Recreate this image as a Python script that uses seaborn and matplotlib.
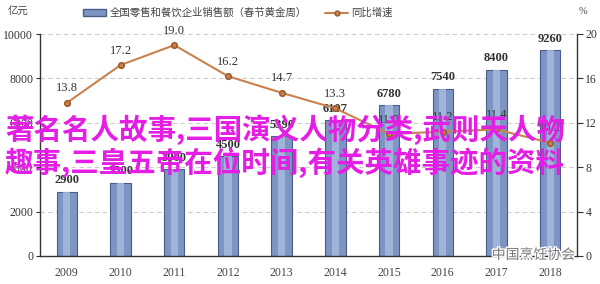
import matplotlib
matplotlib.use("Agg")
import matplotlib.pyplot as plt
import seaborn as sns
import numpy as np
import pandas as pd
from matplotlib.lines import Line2D
from matplotlib.patches import Patch
import matplotlib.patheffects as pe

years = ["2009", "2010", "2011", "2012", "2013", "2014", "2015", "2016", "2017", "2018"]
sales = [2900, 3300, 3900, 4500, 5390, 6107, 6780, 7540, 8400, 9260]
growth = [13.8, 17.2, 19.0, 16.2, 14.7, 13.3, 11.0, 11.2, 11.4, 10.2]
left_ticks = [0, 2000, 4000, 6000, 8000, 10000]
right_ticks = [0, 4, 8, 12, 16, 20]
bar_name = "全国零售和餐饮企业销售额（春节黄金周）"
line_name = "同比增速"
overlay1 = "著名名人故事,三国演义人物分类,武则天人物"
overlay2 = "趣事,三皇五帝在位时间,有关英雄事迹的资料"

sns.set_theme(style="white")
plt.rcParams['font.family'] = ['Noto Sans CJK SC', 'DejaVu Sans']
serif = ['Liberation Serif', 'DejaVu Serif']

df = pd.DataFrame({"year": years, "sales": sales, "growth": growth})

fig = plt.figure(figsize=(6.0, 2.84), dpi=100)
ax = fig.add_axes([40/600, 1-256/284, 537/600, 222/284])

bar_col = "#7d95c3"
sns.barplot(data=df, x="year", y="sales", ax=ax, color=bar_col, width=0.38,
            edgecolor="#4a5d8a", linewidth=0.8, saturation=1)
for p in list(ax.patches):
    x0, w, h = p.get_x(), p.get_width(), p.get_height()
    ax.bar(x0 + w*0.5, h, width=w*0.35, color="#a9bce0", alpha=0.8, linewidth=0, zorder=p.get_zorder()+0.1)

ax.set_xlim(-0.5, len(years)-0.5)
ax.set_ylim(0, 10000)
ax.set_yticks(left_ticks)
ax.set_yticklabels([str(v) for v in left_ticks], family=serif, fontsize=8.5, color="#333333")
ax.set_xticks(range(len(years)))
ax.set_xticklabels(years, family=serif, fontsize=8.5, color="#444444")
ax.set_xticks(np.arange(-0.5, len(years), 1.0), minor=True)
ax.tick_params(axis='x', which='major', length=0, pad=8)
ax.tick_params(axis='x', which='minor', length=4, width=0.8, color="#333333", direction='out')
ax.tick_params(axis='y', length=3, width=0.8, color="#333333", direction='out', left=True, pad=2)
ax.set_xlabel("")
ax.set_ylabel("")
for y in left_ticks[1:]:
    ax.axhline(y, color="#cccccc", lw=0.8, ls=(0, (4, 3)), zorder=0)
ax.spines['top'].set_visible(False)
ax.spines['right'].set_visible(False)
ax.spines['left'].set_color("#333333")
ax.spines['bottom'].set_color("#333333")
ax.spines['left'].set_linewidth(1.0)
ax.spines['bottom'].set_linewidth(1.0)

for i, v in enumerate(sales):
    ax.annotate(str(v), (i, v), xytext=(0, 4), textcoords='offset points', ha='center', va='bottom',
                family=serif, fontsize=9, fontweight='bold', color="#333333")

ax2 = ax.twinx()
line_col = "#c9814e"
sns.pointplot(data=df, x="year", y="growth", ax=ax2, color=line_col, markers='o',
              markersize=4, linewidth=1.5, native_scale=False)
for c in ax2.collections:
    c.set_edgecolor("#9c5a2c")
for l in ax2.lines:
    l.set_markeredgecolor("#9c5a2c")
ax2.set_xlim(-0.5, len(years)-0.5)
ax2.set_ylim(0, 20)
ax2.set_yticks(right_ticks)
ax2.set_yticklabels([str(v) for v in right_ticks], family=serif, fontsize=8.5, color="#333333")
ax2.tick_params(axis='y', length=4, width=0.8, color="#333333", direction='out', right=True, pad=2)
ax2.set_ylabel("")
ax2.set_xlabel("")
for s in ['top', 'left', 'bottom']:
    ax2.spines[s].set_visible(False)
ax2.spines['right'].set_color("#333333")
ax2.spines['right'].set_linewidth(1.0)
ax2.grid(False)

for i, v in enumerate(growth):
    ax2.annotate(f"{v:.1f}", (i, v), xytext=(0, 6), textcoords='offset points', ha='center', va='bottom',
                 family=serif, fontsize=9, color="#333333")

fig.text(8/600, 1-12/284, "亿元", fontsize=7.5, color="#444444", ha='left', va='center')
fig.text(583/600, 1-12/284, "%", fontsize=7.5, color="#444444", ha='center', va='center', family=serif)

handles = [Patch(facecolor=bar_col, edgecolor="#4a5d8a"),
           Line2D([0], [0], color=line_col, lw=1.5, marker='o', markersize=3.5, markeredgecolor="#9c5a2c")]
fig.legend(handles, [bar_name, line_name], loc='center', bbox_to_anchor=(238/600, 1-13/284), ncol=2,
           frameon=False, fontsize=7.5, handlelength=2.2, handleheight=0.6, columnspacing=1.8,
           handletextpad=0.3, labelcolor="#444444")

for t, yy in [(overlay1, 130), (overlay2, 163)]:
    fig.text(5/600, 1-yy/284, t, fontsize=20.5, color="#e51ee6", fontweight='bold',
             ha='left', va='center', zorder=10)

fig.text(575/600, 1-255/284, "中国烹饪协会", fontsize=10, color="#777777", ha='right', va='center',
         path_effects=[pe.withStroke(linewidth=2, foreground='white')], zorder=10)

fig.savefig("out.png", dpi=100)
